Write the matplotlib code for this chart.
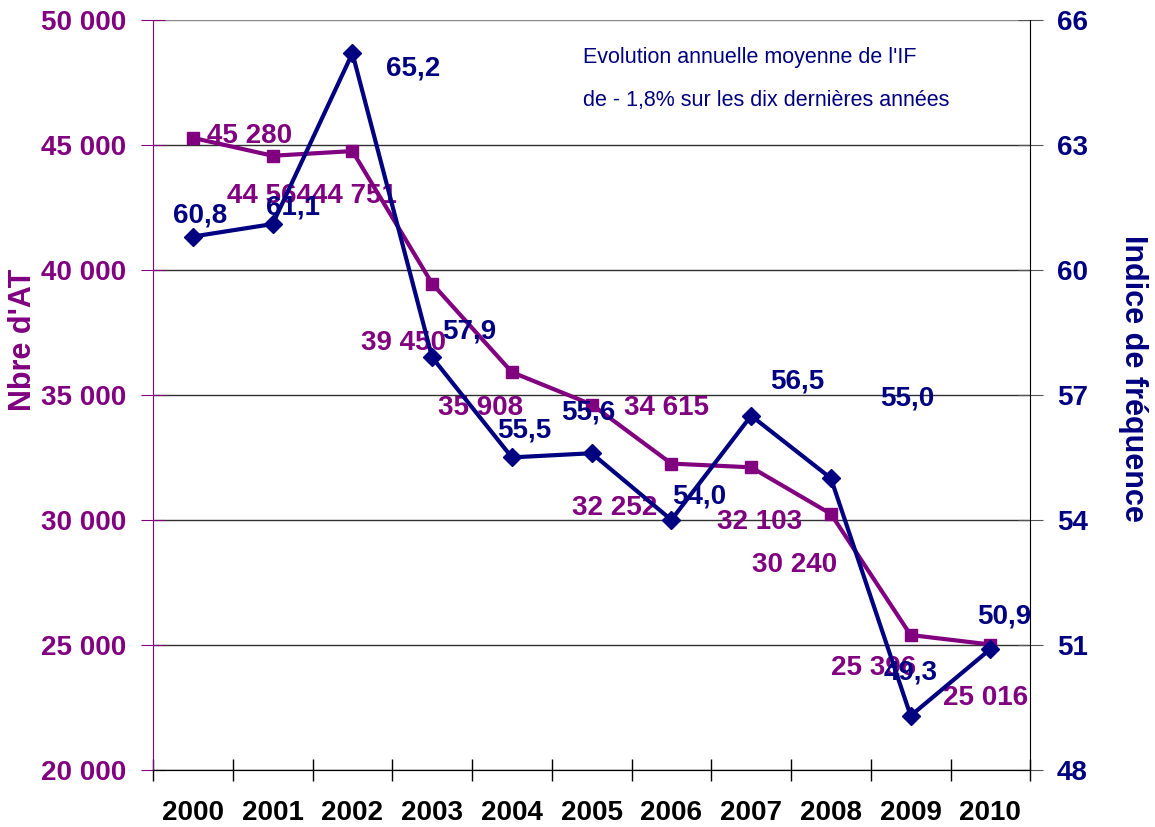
import matplotlib.pyplot as plt
import numpy as np

plt.rcParams['font.family'] = ['Liberation Sans', 'DejaVu Sans']

years = ['2000', '2001', '2002', '2003', '2004', '2005',
         '2006', '2007', '2008', '2009', '2010']
nb_at = [45280, 44564, 44751, 39450, 35908, 34615, 32252, 32103, 30240, 25396, 25016]
indice_f = [60.8, 61.1, 65.2, 57.9, 55.5, 55.6, 54.0, 56.5, 55.0, 49.3, 50.9]

PURPLE = '#800080'
NAVY = '#000080'

# label offsets in pixels (dx, dy), as placed in the original chart
at_offsets = [(57, 2), (-3, -40), (2, -45), (-29, -59), (-31, -36), (75, -3),
              (-57, -44), (8, -55), (-36, -51), (-37, -33), (-5, -53)]
if_offsets = [(7, 21), (20, 17), (61, -15), (37, 26), (12, 27), (-3, 41),
              (28, 23), (46, 34), (76, 80), (0, 43), (14, 33)]

def fmt_at(v):
    return f"{v:,}".replace(',', ' ')

fig = plt.figure(figsize=(11.55, 8.27), dpi=100)
ax = fig.add_axes([0.1325, 0.069, 0.7595, 0.907])
ax2 = ax.twinx()

x = np.arange(len(years))

ax.plot(x, nb_at, color=PURPLE, lw=3, marker='s', ms=8.5, zorder=3)
ax2.plot(x, indice_f, color=NAVY, lw=3, marker='D', ms=9, zorder=3)

for xi, v, (dx, dy) in zip(x, nb_at, at_offsets):
    ax.annotate(fmt_at(v), (xi, v), xytext=(dx, dy), textcoords='offset pixels',
                ha='center', va='center', color=PURPLE, fontsize=20, fontweight='bold')
for xi, v, (dx, dy) in zip(x, indice_f, if_offsets):
    ax2.annotate(f"{v:.1f}".replace('.', ','), (xi, v), xytext=(dx, dy),
                 textcoords='offset pixels', ha='center', va='center',
                 color=NAVY, fontsize=20, fontweight='bold')

ax.set_xlim(-0.5, len(years) - 0.5)
ax.set_ylim(20000, 50000)
ax2.set_ylim(48, 66)

ax.set_yticks(np.arange(20000, 50001, 5000))
ax.set_yticklabels([fmt_at(v) for v in range(20000, 50001, 5000)],
                   color=PURPLE, fontsize=20, fontweight='bold')
ax2.set_yticks(np.arange(48, 67, 3))
ax2.set_yticklabels([str(v) for v in range(48, 67, 3)],
                    color=NAVY, fontsize=20, fontweight='bold')

ax.set_xticks(x)
ax.set_xticklabels(years, fontsize=20, fontweight='bold')
ax.set_xticks(np.arange(-0.5, len(years)), minor=True)
ax.tick_params(axis='x', which='major', length=0, pad=22)
ax.tick_params(axis='x', which='minor', direction='inout', length=16, width=1)
ax.tick_params(axis='y', direction='inout', length=17, color=PURPLE, pad=11)
ax2.tick_params(axis='y', direction='inout', length=18, color='#555555', pad=10)

ax.yaxis.grid(True, color='#303030', lw=1)
ax.get_ygridlines()[-1].set_color('#888888')
ax.set_axisbelow(True)

for a in (ax, ax2):
    a.spines['top'].set_visible(False)
ax2.spines['left'].set_visible(False)
ax.spines['left'].set_color(PURPLE)
ax.spines['right'].set_visible(False)
ax2.spines['right'].set_color('black')
ax.spines['bottom'].set_color('black')

fig.text(23 / 1155, 1 - 340 / 827, "Nbre d'AT", color=PURPLE, fontsize=22,
         fontweight='bold', rotation=90, ha='center', va='center')
fig.text(1133 / 1155, 1 - 378 / 827, "Indice de fréquence", color=NAVY, fontsize=22,
         fontweight='bold', rotation=270, ha='center', va='center')

ax.text(0.49, 0.950, "Evolution annuelle moyenne de l'IF", transform=ax.transAxes,
        color=NAVY, fontsize=15.5, va='center', ha='left')
ax.text(0.49, 0.893, "de - 1,8% sur les dix dernières années", transform=ax.transAxes,
        color=NAVY, fontsize=15.5, va='center', ha='left')

fig.savefig('out.png', dpi=100)
